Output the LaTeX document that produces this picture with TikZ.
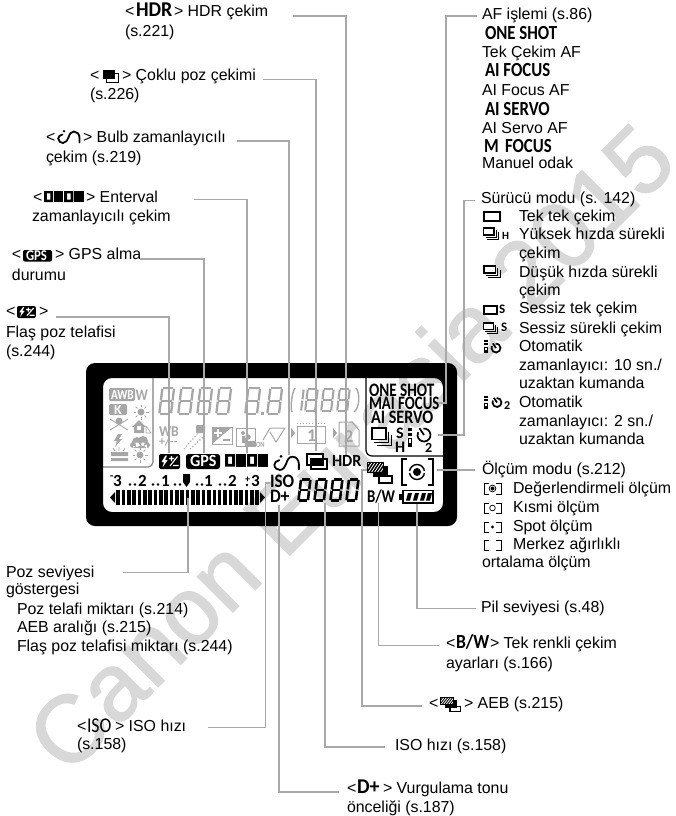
\documentclass[tikz,border=0pt]{standalone}
\usepackage{fontspec}
\usepackage{graphicx}
\setmainfont{Liberation Sans}
\newfontfamily\cafont{Carlito}
\newfontfamily\wmfont[FakeBold=1.4]{Liberation Sans}
\definecolor{lead}{HTML}{A8A8A8}
\definecolor{lcd}{HTML}{A6A6A6}
\definecolor{wmark}{HTML}{D8D8D8}
\tikzset{
  lbl/.style={anchor=base west,inner sep=0pt,outer sep=0pt,font=\fontsize{15.9}{18}\selectfont},
  cnl/.style={anchor=base west,inner sep=0pt,outer sep=0pt},
  leader/.style={draw=lead,line width=1.1pt},
}
\newcommand\cn[3][.85]{{\fontsize{#2}{#2}\selectfont\cafont\bfseries\scalebox{#1}[1]{#3}}}
\newcommand\lab[4]{\node[lbl] (#1) at (#2,#3) {#4};}
\newcommand\ctx[4]{\node[cnl] (#1) at (#2,#3) {#4};}
% seven-segment digit: x, baseline y, w, h, thickness, colour, kind (8,0,1)
\newcommand\dig[7]{%
 \begin{scope}[shift={(#1,#2)},xslant=.12,line width=#5pt,draw=#6]
  \pgfmathsetmacro\dt{#5/2}\pgfmathsetmacro\dg{#5*.75}
  \pgfmathsetmacro\dW{#3}\pgfmathsetmacro\dH{#4}\pgfmathsetmacro\dM{#4/2}
  \draw (\dW-\dt,-\dg) -- (\dW-\dt,-\dM+.6);
  \draw (\dW-\dt,-\dM-.6) -- (\dW-\dt,-\dH+\dg);
  \ifnum#7=1\else
  \draw (\dg,-\dt) -- (\dW-\dg,-\dt);
  \draw (\dg,-\dH+\dt) -- (\dW-\dg,-\dH+\dt);
  \draw (\dt,-\dg) -- (\dt,-\dM+.6);
  \draw (\dt,-\dM-.6) -- (\dt,-\dH+\dg);
  \fi
  \ifnum#7=8
  \draw (\dg,-\dM) -- (\dW-\dg,-\dM);
  \fi
 \end{scope}}
\newcommand\icBurst[4]{%
 \begin{scope}[shift={(#1,#2)},xscale=#3,yscale=#4]
  \draw[line width=.7pt] (15.5,3)--(15.5,10)--(3,10);
  \draw[line width=.7pt] (18,5)--(18,12)--(5,12);
  \draw[fill=white,line width=1.6pt] (.8,.8) rectangle (13,8);
 \end{scope}}
\newcommand\icBulb[4]{%
 \begin{scope}[shift={(#1,#2)},xscale=#3,yscale=#4]
  \draw[line width=1.8pt,line cap=round] (5.5,4.5) .. controls (3,5) and (1.2,6.5) .. (1.2,8.5) .. controls (1.2,11.5) and (4,13) .. (6,13) .. controls (9,13) and (10.5,10) .. (11.5,7.5) .. controls (12.5,4) and (14,1.5) .. (17,1.5) .. controls (20,1.5) and (22.5,4) .. (22.5,8) -- (22.5,12.5);
  \fill (7,1.2) circle[radius=1.3];
 \end{scope}}
\newcommand\icInt[4]{%
 \begin{scope}[shift={(#1,#2)},xscale=#3,yscale=#4]
  \foreach \q in {0,22}{
   \fill[even odd rule] (\q,0) rectangle (\q+10,12) (\q+3,2.5) rectangle (\q+7,9.5);
   \fill (\q+11,0) rectangle (\q+21,12);}
 \end{scope}}
\newcommand\icFlash[4]{%
 \begin{scope}[shift={(#1,#2)},xscale=#3,yscale=#4]
  \fill[rounded corners=2pt] (0,0) rectangle (21,15);
  \fill[white] (6.5,1.5)--(2.5,8)--(5,8)--(3.5,13.5)--(8.5,6.2)--(6,6.2)--(8,1.5)--cycle;
  \draw[white,line width=1.1pt] (11,12)--(18.5,2.5) (10,4.5)--(15,4.5) (12.5,2)--(12.5,7) (14,11.5)--(19.5,11.5);
 \end{scope}}
\newcommand\icTimer[3]{% cx,cy,r
  \draw[line width=1.7pt] ([shift={(-95:#3)}]#1,#2) arc[start angle=-95,end angle=205,radius=#3];
  \draw[line width=1.7pt] (#1,#2) -- ++(-.7*#3,-1.05*#3);
}
\newcommand\icRemote[3]{% x,y,height
 \begin{scope}[shift={(#1,#2)},yscale=#3]
  \fill (0.3,0) rectangle (3.7,.16);
  \fill (0.3,.26) rectangle (3.7,.4);
  \fill (0,.5) rectangle (4,1);
  \fill[white] (1.4,.6) rectangle (2.6,.78);
 \end{scope}}
\newcommand\icSun[4]{% cx,cy,r,colour
  \fill[#4] (#1,#2) circle[radius=#3];
  \foreach \a in {0,45,...,315}{\draw[#4,line width=.9pt] ([shift={(\a:#3+1.5)}]#1,#2) -- ([shift={(\a:#3+4)}]#1,#2);}
}
\newcommand\icBrk[3]{% x,y,h (17 wide)
  \draw[line width=.8pt] (#1+5,#2) -- (#1,#2) -- (#1,#2+#3) -- (#1+5,#2+#3) (#1+12,#2) -- (#1+17,#2) -- (#1+17,#2+#3) -- (#1+12,#2+#3);
}
\newcommand\icAeb[4]{%
 \begin{scope}[shift={(#1,#2)},xscale=#3,yscale=#4]
  \draw[fill=white,line width=1.2pt] (12,14) rectangle (25,21);
  \fill (6,4) rectangle (21,15);
  \begin{scope}
   \clip (0,0) rectangle (16,10);
   \fill[black] (0,0) rectangle (16,10);
   \foreach \q in {0,3,...,24}{\draw[white,line width=.8pt] (\q-8,11)--(\q,-1);}
  \end{scope}
  \draw[line width=.6pt] (0,0) rectangle (16,10);
 \end{scope}}
\begin{document}
\begin{tikzpicture}[x=1pt,y=-1pt]
\useasboundingbox (0,0) rectangle (676,816);
% watermark
\node[inner sep=0pt,text=wmark,rotate=45,font=\fontsize{95}{95}\selectfont\wmfont] (wm) at (350,447) {Canon Eurasia 2015};
% display frame
\fill[even odd rule,rounded corners=9pt] (86,363) rectangle (457,526) (103,378) rectangle (443,512);
\draw[draw=gray,line width=1.1pt,rounded corners=5pt] (153,378) -- (153,467) -- (103,467);
\draw[line width=1.2pt,rounded corners=6pt] (366,378) -- (366,456) -- (443,456);
% left panel (inactive segments)
\fill[lcd,rounded corners=1.5pt] (109,388) rectangle (135,401);
\ctx{dAwb}{111}{399}{\textcolor{white}{\cn[.8]{14}{AWB}}}
\ctx{dW}{135.5}{400}{\textcolor{lcd}{\cn[.85]{16}{W}}}
\fill[lcd,rounded corners=1.5pt] (109,404) rectangle (127,415);
\ctx{dK}{114}{414}{\textcolor{white}{\cn[1]{14}{K}}}
\icSun{141}{412}{3.5}{lcd}
\draw[lcd,line width=.9pt] (110,419)--(128,430) (128,419)--(110,430);
\fill[lcd] (119,421) circle[radius=3.5];
\fill[white] (114,428) rectangle (124,433);
\fill[lcd] (132,427)--(139,420)--(146,427)--(144,427)--(144,433)--(134,433)--(134,427)--cycle;
\fill[white] (137,426) rectangle (141,430);
\draw[lcd,line width=.6pt] (146,426)--(151,433)--(146,433)--cycle;
\fill[lcd] (118,434)--(114,441)--(117,441)--(115,447)--(122,439)--(119,439)--(122,434)--cycle;
\fill[lcd] (137,442) circle[radius=5] (143,441) circle[radius=5] (133,445) circle[radius=3] (147,445) circle[radius=3] (133,442.5) rectangle (147,448);
\fill[lcd] (111,452) rectangle (128,456) (111,458) rectangle (128,461);
\draw[lcd,line width=.7pt] (113,448)--(115,451) (119,447)--(119,451) (125,448)--(123,451);
\icSun{140}{455}{3.5}{lcd}
% inactive digits
\dig{158}{415}{14}{28}{2.3}{lcd}{8}
\dig{177}{415}{14}{28}{2.3}{lcd}{8}
\dig{196}{415}{14}{28}{2.3}{lcd}{8}
\dig{215}{415}{14}{28}{2.3}{lcd}{8}
\dig{244}{415}{14}{28}{2.3}{lcd}{8}
\fill[lcd] (261,412) rectangle (264,415);
\dig{266}{415}{14}{28}{2.3}{lcd}{8}
\draw[lcd,line width=1.4pt] (295,388) .. controls (292,392) and (290,408) .. (292,412);
\dig{291}{412}{11}{24}{2.1}{lcd}{1}
\dig{304}{412}{12}{24}{2.1}{lcd}{8}
\dig{320}{412}{12}{24}{2.1}{lcd}{8}
\dig{336}{412}{12}{24}{2.1}{lcd}{8}
\draw[lcd,line width=1.4pt] (356,388) .. controls (360,392) and (360,408) .. (354,412);
% inactive row icons
\ctx{dWb}{159}{436}{\textcolor{lcd}{\cn[.9]{15}{WB}}}
\ctx{dWbm}{159}{445}{\textcolor{lcd}{\cn[1]{12}{+/--}}}
\fill[lcd,rounded corners=1pt] (196,425) rectangle (205,433);
\draw[lcd,line width=1.2pt,dotted] (184,449)--(198,433) (190,449)--(203,437);
\draw[lcd,line width=1pt] (212,427) rectangle (232,444);
\fill[lcd] (212,427)--(232,427)--(212,444)--cycle;
\draw[white,line width=1.2pt] (214,433)--(222,433) (218,429)--(218,437);
\draw[lcd,line width=1.4pt] (223,440)--(230,440);
\draw[lcd,line width=.8pt] (236,428) rectangle (255,446);
\fill[lcd] (248,437) circle[radius=2.8] (243,433) circle[radius=2] (242,436) rectangle (246,443) (245,441) rectangle (255,446);
\ctx{dOn}{256}{447}{\textcolor{lcd}{\cn[.8]{8}{ON}}}
\draw[lcd,line width=1pt] (263,440)--(270,428)--(285,428)--(276,442)--(270,432);
\fill[lcd] (291,428)--(295,433)--(291,438)--cycle;
\draw[lcd,line width=1pt,dotted] (297,423)--(325,423);
\draw[lcd,line width=1pt] (297,426) rectangle (325,443);
\ctx{dOne}{307}{441}{\textcolor{lcd}{\cn[1]{18}{1}}}
\fill[lcd] (333,428)--(337,433)--(333,438)--cycle;
\draw[lcd,line width=1pt] (339,422)--(352,422)--(359,430)--(359,446)--(339,446)--cycle;
\ctx{dTwo}{344}{442}{\textcolor{lcd}{\cn[1]{18}{2}}}
% right panel
\ctx{dOs}{369}{396}{\cn[.8]{19}{ONE SHOT}}
\ctx{dMf}{369}{409}{\cn[.78]{19}{MAI FOCUS}}
\ctx{dAs}{371}{423}{\cn[.85]{19}{AI SERVO}}
\icBurst{371}{427}{1.15}{1.55}
\ctx{dS}{396}{438}{\cn[1]{16}{S}}
\ctx{dH}{395}{452}{\cn[1]{16}{H}}
\icRemote{408}{428}{19}
\icTimer{424}{435}{6.5}
\ctx{dTw}{425}{452}{\cn[1]{14}{2}}
% active row
\icFlash{159}{454}{1}{1}
\fill[rounded corners=2.5pt] (186,454) rectangle (220,469);
\ctx{dGps}{190}{466}{\textcolor{white}{\cn[.95]{17}{GPS}}}
\icInt{225}{454}{1}{1.05}
\icBulb{273}{455}{1.15}{1.15}
\draw[line width=1.5pt] (307,454) rectangle (323,465) (311,459) rectangle (327,469);
\fill (311,459) rectangle (323,465);
\ctx{dHdr}{332}{466}{\cn[.95]{17}{HDR}}
\icAeb{367}{462}{1}{1}
\draw[line width=1.3pt] (407,459)--(402,459)--(402,485)--(407,485) (428,459)--(433,459)--(433,485)--(428,485);
\draw[line width=1.4pt] (417,472) circle[radius=7.5];
\draw[white,line width=2.5pt] (408,472)--(411,472) (423,472)--(426,472);
\fill (417,472) circle[radius=4];
\ctx{dBw}{367}{502}{\cn[.82]{18}{B/W}}
\fill (399,494) rectangle (403,500);
\draw[line width=1.3pt] (403,490.5) rectangle (433,503);
\foreach \q in {406,413,420,426}{\fill (\q,500.5)--(\q+2,493)--(\q+6,493)--(\q+4,500.5)--cycle;}
% exposure scale
\ctx{sM}{110}{479}{\cn[1]{11}{-}}
\ctx{s3}{113}{486}{\cn[1]{17}{3}}
\ctx{s2}{138}{486}{\cn[1]{17}{2}}
\ctx{s1}{161}{486}{\cn[1]{17}{1}}
\ctx{s1b}{204}{486}{\cn[1]{17}{1}}
\ctx{s2b}{228}{486}{\cn[1]{17}{2}}
\ctx{sP}{245}{482}{\cn[1]{10}{+}}
\ctx{s3b}{251}{486}{\cn[1]{17}{3}}
\foreach \q in {130,135,153,158,175,180,197,202,220,225}{\fill (\q,484.5) circle[radius=1.4];}
\fill (247,485) circle[radius=1.4];
\fill (183,474) rectangle (190,482) (183,482)--(190,482)--(186.5,487)--cycle;
\fill (110,497.5)--(115,492)--(115,503)--cycle;
\fill (260,492)--(265,497.5)--(260,503)--cycle;
\foreach \q in {0,...,26}{\fill (116.2+\q*5.35,490) rectangle (119.8+\q*5.35,505);}
\ctx{dIso}{270}{487}{\cn[.9]{19}{ISO}}
\ctx{dDp}{270}{502}{\cn[.9]{19}{D+}}
\dig{297}{502}{12}{24}{2.6}{black}{8}
\dig{313}{502}{12}{24}{2.6}{black}{8}
\dig{329}{502}{12}{24}{2.6}{black}{8}
\dig{345}{502}{12}{24}{2.6}{black}{0}
% left labels
\lab{hdrA}{125}{17}{<}
\ctx{hdrB}{136}{17}{\cn[.95]{21}{HDR}}
\lab{hdrC}{174}{17}{> HDR çekim}
\lab{hdrD}{125}{37}{(s.221)}
\lab{mulA}{90}{81}{<}
\fill (103,70) rectangle (115,79);
\draw[line width=.9pt] (106,73) rectangle (118,82);
\fill (106,73) rectangle (115,79);
\lab{mulC}{122}{81}{> Çoklu poz çekimi}
\lab{mulD}{90}{99}{(s.226)}
\lab{bulA}{46}{142}{<}
\icBulb{57}{130}{1}{1}
\lab{bulC}{83}{142}{> Bulb zamanlayıcılı}
\lab{bulD}{46}{162}{çekim (s.219)}
\lab{intA}{33}{202}{<}
\icInt{44}{191}{.92}{.92}
\lab{intC}{86}{202}{> Enterval}
\lab{intD}{32}{221}{zamanlayıcılı çekim}
\lab{gpsA}{12}{259}{<}
\fill[rounded corners=2pt] (23,250) rectangle (52,261.5);
\ctx{gpsB}{26}{260}{\textcolor{white}{\cn[.85]{15}{GPS}}}
\lab{gpsC}{55}{259}{> GPS alma}
\lab{gpsD}{12}{280}{durumu}
\lab{flaA}{6}{316}{<}
\icFlash{17}{306}{.9}{.8}
\lab{flaC}{39}{316}{>}
\lab{flaD}{6}{337}{Flaş poz telafisi}
\lab{flaE}{6}{356}{(s.244)}
\lab{expA}{6}{577}{Poz seviyesi}
\lab{expB}{6}{594}{göstergesi}
\lab{expC}{17}{614}{Poz telafi miktarı (s.214)}
\lab{expD}{17}{632}{AEB aralığı (s.215)}
\lab{expE}{17}{651}{Flaş poz telafisi miktarı (s.244)}
\lab{isoA}{77}{731}{<}
\node[cnl] (isoB) at (87,732) {\fontsize{21}{21}\selectfont\cafont\scalebox{.85}[1]{ISO}};
\lab{isoC}{115}{731}{> ISO hızı}
\lab{isoD}{77}{749}{(s.158)}
% right labels
\lab{afA}{482}{20}{AF işlemi (s.86)}
\ctx{afB}{485}{40}{\cn[.84]{20}{ONE SHOT}}
\lab{afC}{482}{58}{Tek Çekim AF}
\ctx{afD}{485}{77}{\cn[.84]{20}{AI FOCUS}}
\lab{afE}{482}{95}{AI Focus AF}
\ctx{afF}{485}{115}{\cn[.84]{20}{AI SERVO}}
\lab{afG}{482}{133}{AI Servo AF}
\ctx{afH}{484}{152}{\cn[.84]{20}{M\hspace{3pt} FOCUS}}
\lab{afI}{482}{168}{Manuel odak}
\lab{drA}{481}{203}{Sürücü modu (s. 142)}
\draw[line width=1.8pt] (484,212) rectangle (500,221);
\lab{drB}{519}{221}{Tek tek çekim}
\icBurst{483}{227}{.85}{1}
\ctx{drH}{502}{239}{\cn[1]{11}{H}}
\lab{drC}{519}{239}{Yüksek hızda sürekli}
\lab{drD}{519}{258}{çekim}
\icBurst{483}{265}{.95}{1}
\lab{drE}{519}{277}{Düşük hızda sürekli}
\lab{drF}{519}{295}{çekim}
\draw[line width=1.4pt] (484,306) rectangle (497,314);
\ctx{drS}{499}{313}{\cn[1]{13}{S}}
\lab{drG}{519}{313}{Sessiz tek çekim}
\icBurst{483}{322}{.8}{.95}
\ctx{drT}{501}{331}{\cn[1]{13}{S}}
\lab{drI}{519}{333}{Sessiz sürekli çekim}
\icRemote{484}{340}{13}
\icTimer{496}{348}{4.5}
\lab{drJ}{519}{351}{Otomatik}
\lab{drK}{519}{370}{zamanlayıcı: 10 sn./}
\lab{drL}{519}{388}{uzaktan kumanda}
\icRemote{484}{396}{13}
\icTimer{497}{402.5}{4.5}
\ctx{drN}{504}{409.5}{\cn[1]{12}{2}}
\lab{drO}{519}{407}{Otomatik}
\lab{drP}{519}{426}{zamanlayıcı: 2 sn./}
\lab{drQ}{519}{444}{uzaktan kumanda}
\lab{meA}{482}{474}{Ölçüm modu (s.212)}
\icBrk{484}{483}{11}
\draw[line width=.7pt] (492.5,488.5) circle[radius=3.4];
\fill (492.5,488.5) circle[radius=2];
\lab{meB}{513}{493}{Değerlendirmeli ölçüm}
\icBrk{484}{503}{10.5}
\draw[line width=.7pt] (492.5,508) circle[radius=2.8];
\lab{meC}{513}{512}{Kısmi ölçüm}
\icBrk{484}{522}{10.5}
\fill (492.5,527) circle[radius=1.6];
\lab{meD}{513}{531}{Spot ölçüm}
\icBrk{484}{540}{10.5}
\lab{meE}{513}{549}{Merkez ağırlıklı}
\lab{meF}{482}{567}{ortalama ölçüm}
\lab{batA}{481}{612}{Pil seviyesi (s.48)}
\lab{bwA}{446}{648}{<}
\ctx{bwB}{456}{648}{\cn[.88]{20}{B/W}}
\lab{bwC}{490}{648}{> Tek renkli çekim}
\lab{bwD}{446}{668}{ayarları (s.166)}
\lab{aebA}{429}{708}{<}
\icAeb{440}{697}{.83}{.7}
\lab{aebC}{464}{708}{> AEB (s.215)}
\lab{spA}{395}{750}{ISO hızı (s.158)}
\lab{dpA}{347}{793}{<}
\ctx{dpB}{357}{793}{\cn[.95]{21}{D+}}
\lab{dpC}{383}{793}{> Vurgulama tonu}
\lab{dpD}{347}{812}{önceliği (s.187)}
% leader end points
\foreach \n/\x/\y in {
 lHa/293/16,lHb/346/455,lMa/263/79.5,lMb/316/451,lBa/237/141,lBb/289/455,
 lIa/194/199.5,lIb/247/453,lGa/140/259,lGb/204/453,lFa/56/317,lFb/169/453,
 lEa/123/572.5,lEb/188/498,lSa/208/727.7,lSc/270/483,lDa/339/792,lDb/279/505,
 lPa/385/747,lPb/325/503,lAa/422/706,lAc/367/470,lWa/439/645.7,lWb/378.5/503,
 lCa/476/608.7,lCb/417/504,lOa/477/16,lOc/438/403,lDra/475/200.7,lDrc/438/435,
 lMea/475/470,lMeb/437/470}
 {\coordinate (\n) at (\x,\y);}
\draw[leader] (lHa) -| (lHb);
\draw[leader] (lMa) -| (lMb);
\draw[leader] (lBa) -| (lBb);
\draw[leader] (lIa) -| (lIb);
\draw[leader] (lGa) -| (lGb);
\draw[leader] (lFa) -| (lFb);
\draw[leader] (lEa) -| (lEb);
\draw[leader] (lSa) -| (265.5,483) -- (lSc);
\draw[leader] (lDa) -| (lDb);
\draw[leader] (lPa) -| (lPb);
\draw[leader] (lAa) -| (362,470) -- (lAc);
\draw[leader] (lWa) -| (lWb);
\draw[leader] (lCa) -| (lCb);
\draw[leader] (lOa) -| (446,403) -- (lOc);
\draw[leader] (lDra) -| (464,435) -- (lDrc);
\draw[leader] (lMea) -- (lMeb);
\end{tikzpicture}
\end{document}
